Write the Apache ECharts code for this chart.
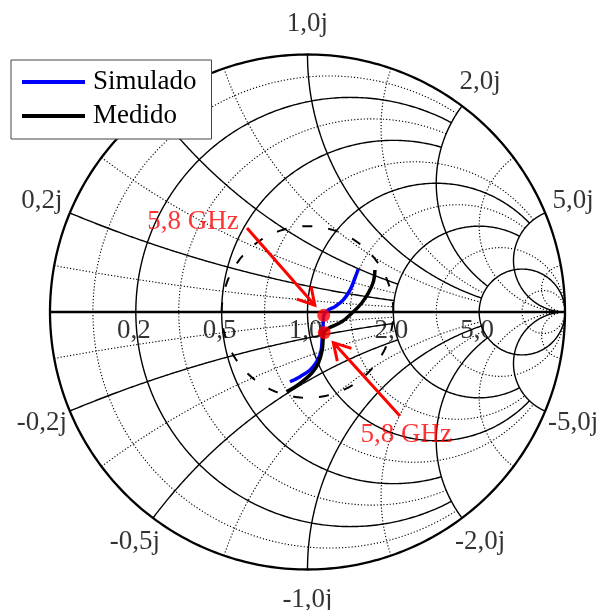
<!DOCTYPE html>
<html>
<head>
<meta charset="utf-8">
<script src="https://cdn.jsdelivr.net/npm/echarts@6/dist/echarts.min.js"></script>
<style>
  html, body { margin: 0; padding: 0; background: #fff; }
  #chart { width: 603px; height: 610px; }
</style>
</head>
<body>
<div id="chart"></div>
<script>
// ---- Smith chart grid (normalised impedance values) ----
const majorValues = [0.2, 0.5, 1.0, 2.0, 5.0];
const majorStops  = [2, 2, 5, 5, Infinity];          // value of the crossing family where each line ends
const minorValues = [1 / 11, 1 / 3, 5 / 7, 7 / 5, 3, 11];
const minorStops  = [2, 2, 5, 5, Infinity, Infinity];

const resistanceTicks  = [0.2, 0.5, 1.0, 2.0, 5.0];
const resistanceLabels = ['0,2', '0,5', '1,0', '2,0', '5,0'];
const reactanceTicks   = [1.0, 2.0, 5.0, 0.2, 0.5, -0.2, -0.5, -1.0, -2.0, -5.0];
const reactanceLabels  = ['1,0j', '2,0j', '5,0j', '0,2j', '0,5j', '-0,2j', '-0,5j', '-1,0j', '-2,0j', '-5,0j'];

// ---- S11 traces, reflection coefficient (real, imaginary) ----
const simRe = [0.197, 0.184, 0.165, 0.139, 0.107, 0.081, 0.063, 0.061, 0.059, 0.057, 0.052, 0.036, 0.010, -0.029, -0.068];
const simIm = [0.166, 0.131, 0.085, 0.047, 0.021, 0.008, -0.013, -0.043, -0.074, -0.102, -0.154, -0.193, -0.225, -0.251, -0.271];
const medRe = [0.262, 0.256, 0.236, 0.210, 0.172, 0.133, 0.094, 0.074, 0.065, 0.061, 0.057, 0.042, 0.016, -0.029, -0.081];
const medIm = [0.163, 0.118, 0.073, 0.034, -0.005, -0.038, -0.057, -0.068, -0.080, -0.102, -0.148, -0.199, -0.238, -0.277, -0.310];

// 5,8 GHz points (simulated, measured)
const markRe = [0.063, 0.065];
const markIm = [-0.013, -0.080];

// VSWR reference circle
const vswr = 2;

// annotation text anchors and arrow tails (reflection-coefficient plane)
const noteText  = ['5,8 GHz', '5,8 GHz'];
const noteRe    = [-0.445, 0.383];
const noteIm    = [0.350, -0.478];
const arrowTailRe = [-0.235, 0.359];
const arrowTailIm = [0.326, -0.404];

// ---- geometry helpers ----
function gamma(r, x) {
  const den = (r + 1) * (r + 1) + x * x;
  return [(r * r - 1 + x * x) / den, (2 * x) / den];
}

function resistanceCircle(r, xStop) {
  const c = r / (1 + r), rho = 1 / (1 + r);
  let phi0 = 0;
  if (isFinite(xStop)) {
    const g = gamma(r, xStop);
    phi0 = Math.atan2(g[1], g[0] - c);
  }
  const pts = [];
  const n = 360;
  for (let i = 0; i <= n; i++) {
    const a = phi0 + (2 * Math.PI - 2 * phi0) * i / n;
    pts.push([c + rho * Math.cos(a), rho * Math.sin(a)]);
  }
  return pts;
}

function reactanceArc(x, rStop) {
  const cy = 1 / x, rho = 1 / Math.abs(x);
  const gs = gamma(0, x);
  const ge = isFinite(rStop) ? gamma(rStop, x) : [1, 0];
  const a1 = Math.atan2(gs[1] - cy, gs[0] - 1);
  const a2 = Math.atan2(ge[1] - cy, ge[0] - 1);
  let d = a2 - a1;
  while (d > Math.PI) d -= 2 * Math.PI;
  while (d <= -Math.PI) d += 2 * Math.PI;
  const pts = [];
  const n = 240;
  for (let i = 0; i <= n; i++) {
    const a = a1 + d * i / n;
    pts.push([1 + rho * Math.cos(a), cy + rho * Math.sin(a)]);
  }
  return pts;
}

function gridFamily(values, stops) {
  const out = [];
  values.forEach((v, i) => {
    out.push({ coords: resistanceCircle(v, stops[i]) });
    out.push({ coords: reactanceArc(v, stops[i]) });
    out.push({ coords: reactanceArc(-v, stops[i]) });
  });
  return out;
}

function circle(radius) {
  const pts = [];
  for (let i = 0; i <= 360; i++) {
    const a = 2 * Math.PI * i / 360;
    pts.push([radius * Math.cos(a), radius * Math.sin(a)]);
  }
  return pts;
}

const zip = (a, b) => a.map((v, i) => [v, b[i]]);

const font = 'Liberation Serif, Times New Roman, serif';
const labelRadius = 1.118;

const reactanceLabelData = reactanceTicks.map((x, i) => {
  const ang = Math.atan2(2 * x, x * x - 1);
  return [labelRadius * Math.cos(ang), labelRadius * Math.sin(ang), reactanceLabels[i]];
});
const resistanceLabelData = resistanceTicks.map((r, i) => [gamma(r, 0)[0], 0, resistanceLabels[i]]);

const chart = echarts.init(document.getElementById('chart'), null, { renderer: 'canvas' });

chart.setOption({
  animation: false,
  backgroundColor: '#fff',
  grid: { left: 50, top: 54.5, width: 515, height: 515 },
  xAxis: { type: 'value', min: -1, max: 1, show: false },
  yAxis: { type: 'value', min: -1, max: 1, show: false },
  legend: {
    left: 11, top: 60, orient: 'vertical',
    data: ['Simulado', 'Medido'],
    icon: 'rect', itemWidth: 63, itemHeight: 4, itemGap: 4,
    padding: [7, 15, 8, 11],
    backgroundColor: '#fff', borderColor: '#444', borderWidth: 1, borderRadius: 0,
    textStyle: { fontFamily: font, fontSize: 27, color: '#000', lineHeight: 30, padding: [0, 0, 0, 3] },
    selectedMode: false
  },
  series: [
    {
      type: 'lines', coordinateSystem: 'cartesian2d', polyline: true, silent: true, clip: false,
      lineStyle: { color: '#000', width: 1.1, type: [1.2, 2], opacity: 1 },
      data: gridFamily(minorValues, minorStops)
    },
    {
      type: 'lines', coordinateSystem: 'cartesian2d', polyline: true, silent: true, clip: false,
      lineStyle: { color: '#000', width: 1.4, opacity: 1 },
      data: gridFamily(majorValues, majorStops)
    },
    {
      type: 'lines', coordinateSystem: 'cartesian2d', polyline: true, silent: true, clip: false,
      lineStyle: { color: '#000', width: 2.3, opacity: 1 },
      data: [{ coords: circle(1) }, { coords: [[-1, 0], [1, 0]] }]
    },
    {
      type: 'lines', coordinateSystem: 'cartesian2d', polyline: true, silent: true, clip: false,
      lineStyle: { color: '#000', width: 2, type: [10, 16], opacity: 1 },
      data: [{ coords: circle((vswr - 1) / (vswr + 1)) }]
    },
    {
      name: 'Simulado', type: 'line', data: zip(simRe, simIm),
      showSymbol: false, symbol: 'none', smooth: 0.4, clip: false, silent: true,
      lineStyle: { color: '#0000ff', width: 3.5 }, itemStyle: { color: '#0000ff' }
    },
    {
      name: 'Medido', type: 'line', data: zip(medRe, medIm),
      showSymbol: false, symbol: 'none', smooth: 0.4, clip: false, silent: true,
      lineStyle: { color: '#000', width: 3.5 }, itemStyle: { color: '#000' }
    },
    {
      type: 'custom', clip: false, silent: true,
      data: arrowTailRe.map((v, i) => [v, arrowTailIm[i], markRe[i], markIm[i]]),
      encode: { x: [0, 2], y: [1, 3] },
      renderItem(params, api) {
        const tail = api.coord([api.value(0), api.value(1)]);
        const mk = api.coord([api.value(2), api.value(3)]);
        const dx = tail[0] - mk[0], dy = tail[1] - mk[1];
        const L = Math.hypot(dx, dy);
        const ux = dx / L, uy = dy / L;
        const tip = [mk[0] + ux * 13.5, mk[1] + uy * 13.5];
        const barb = (ang) => {
          const c = Math.cos(ang), s = Math.sin(ang);
          return [tip[0] + 19 * (ux * c - uy * s), tip[1] + 19 * (ux * s + uy * c)];
        };
        const stroke = { stroke: '#ff0000', lineWidth: 3, fill: null, lineJoin: 'miter' };
        return {
          type: 'group',
          children: [
            { type: 'line', shape: { x1: tail[0], y1: tail[1], x2: tip[0], y2: tip[1] }, style: stroke },
            { type: 'polyline', shape: { points: [barb(Math.PI / 6), tip, barb(-Math.PI / 6)] }, style: stroke }
          ]
        };
      }
    },
    {
      type: 'scatter', data: zip(markRe, markIm), symbol: 'circle', symbolSize: 13,
      itemStyle: { color: '#ff0000' }, silent: true, clip: false, z: 5
    },
    {
      type: 'scatter', data: reactanceLabelData, symbolSize: 0, silent: true, clip: false,
      label: {
        show: true, position: 'inside', formatter: p => p.value[2],
        fontFamily: font, fontSize: 27, color: '#000', align: 'center', verticalAlign: 'middle'
      }
    },
    {
      type: 'scatter', data: resistanceLabelData, symbolSize: 0, silent: true, clip: false,
      label: {
        show: true, position: 'inside', offset: [-2, 19], formatter: p => p.value[2],
        fontFamily: font, fontSize: 27, color: '#000', align: 'center', verticalAlign: 'middle'
      }
    },
    {
      type: 'scatter', data: noteRe.map((v, i) => [v, noteIm[i], noteText[i]]), symbolSize: 0, silent: true, clip: false,
      label: {
        show: true, position: 'inside', formatter: p => p.value[2],
        fontFamily: font, fontSize: 27, color: '#ff0000', align: 'center', verticalAlign: 'middle'
      }
    }
  ]
});
</script>
</body>
</html>
